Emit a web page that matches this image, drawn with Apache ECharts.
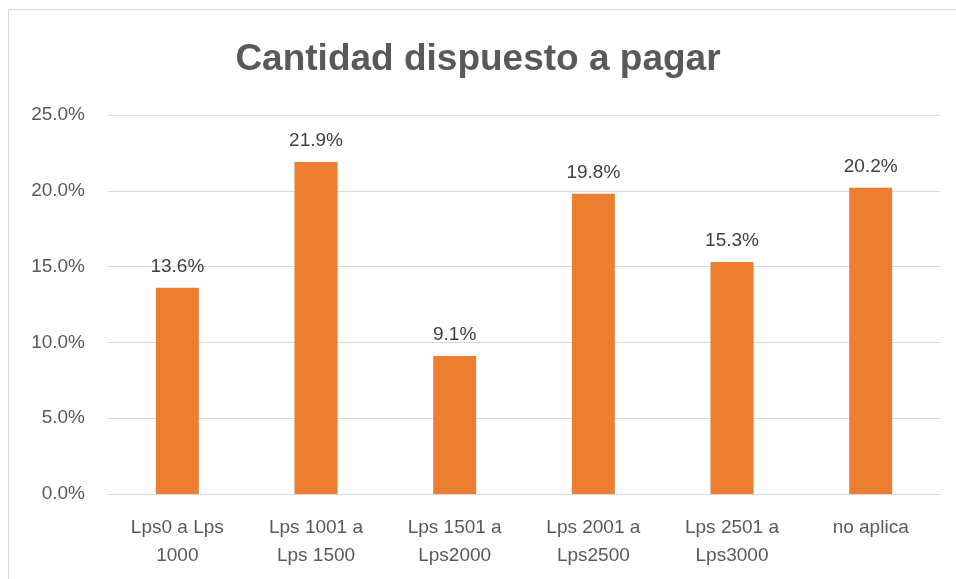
<!DOCTYPE html>
<html><head><meta charset="utf-8">
<script src="https://cdn.jsdelivr.net/npm/echarts@6/dist/echarts.min.js"></script>
<style>html,body{margin:0;padding:0;background:#fff}#c{width:956px;height:579px}</style>
</head><body><div id="c"></div>
<script>
const title = 'Cantidad dispuesto a pagar';
const categories = ['Lps0 a Lps\n1000', 'Lps 1001 a\nLps 1500', 'Lps 1501 a\nLps2000', 'Lps 2001 a\nLps2500', 'Lps 2501 a\nLps3000', 'no aplica'];
const values = [13.6, 21.9, 9.1, 19.8, 15.3, 20.2];
const yTicks = [0, 5, 10, 15, 20, 25];

const FONT = "'Liberation Sans Narrow', 'Liberation Sans', sans-serif";
const chart = echarts.init(document.getElementById('c'), null, {renderer: 'canvas'});
chart.setOption({
  animation: false,
  backgroundColor: '#fff',
  graphic: [{type: 'rect', shape: {x: 8.5, y: 9.5, width: 1000, height: 700}, style: {fill: 'none', stroke: '#d9d9d9', lineWidth: 1}, silent: true}],
  title: {text: title, left: 'center', top: 36, textStyle: {fontFamily: FONT, fontSize: 37, fontWeight: 'bold', color: '#595959'}},
  grid: {left: 108, right: 16, top: 115, bottom: 85, containLabel: false},
  xAxis: {type: 'category', data: categories,
    axisLine: {lineStyle: {color: '#d9d9d9', width: 1}}, axisTick: {show: false},
    axisLabel: {fontFamily: FONT, fontSize: 19, color: '#595959', margin: 20, lineHeight: 28, interval: 0}},
  yAxis: {type: 'value', min: yTicks[0], max: yTicks[yTicks.length-1], interval: 5,
    axisLine: {show: false}, axisTick: {show: false},
    splitLine: {lineStyle: {color: '#d9d9d9', width: 1}},
    axisLabel: {fontFamily: FONT, fontSize: 19, color: '#595959', margin: 23, formatter: v => v.toFixed(1) + '%'}},
  series: [{type: 'bar', data: values, barWidth: '31%', itemStyle: {color: '#ED7D31'},
    label: {show: true, position: 'top', distance: 12, fontFamily: FONT, fontSize: 19, color: '#404040', formatter: p => p.value.toFixed(1) + '%'}}]
});
</script></body></html>
